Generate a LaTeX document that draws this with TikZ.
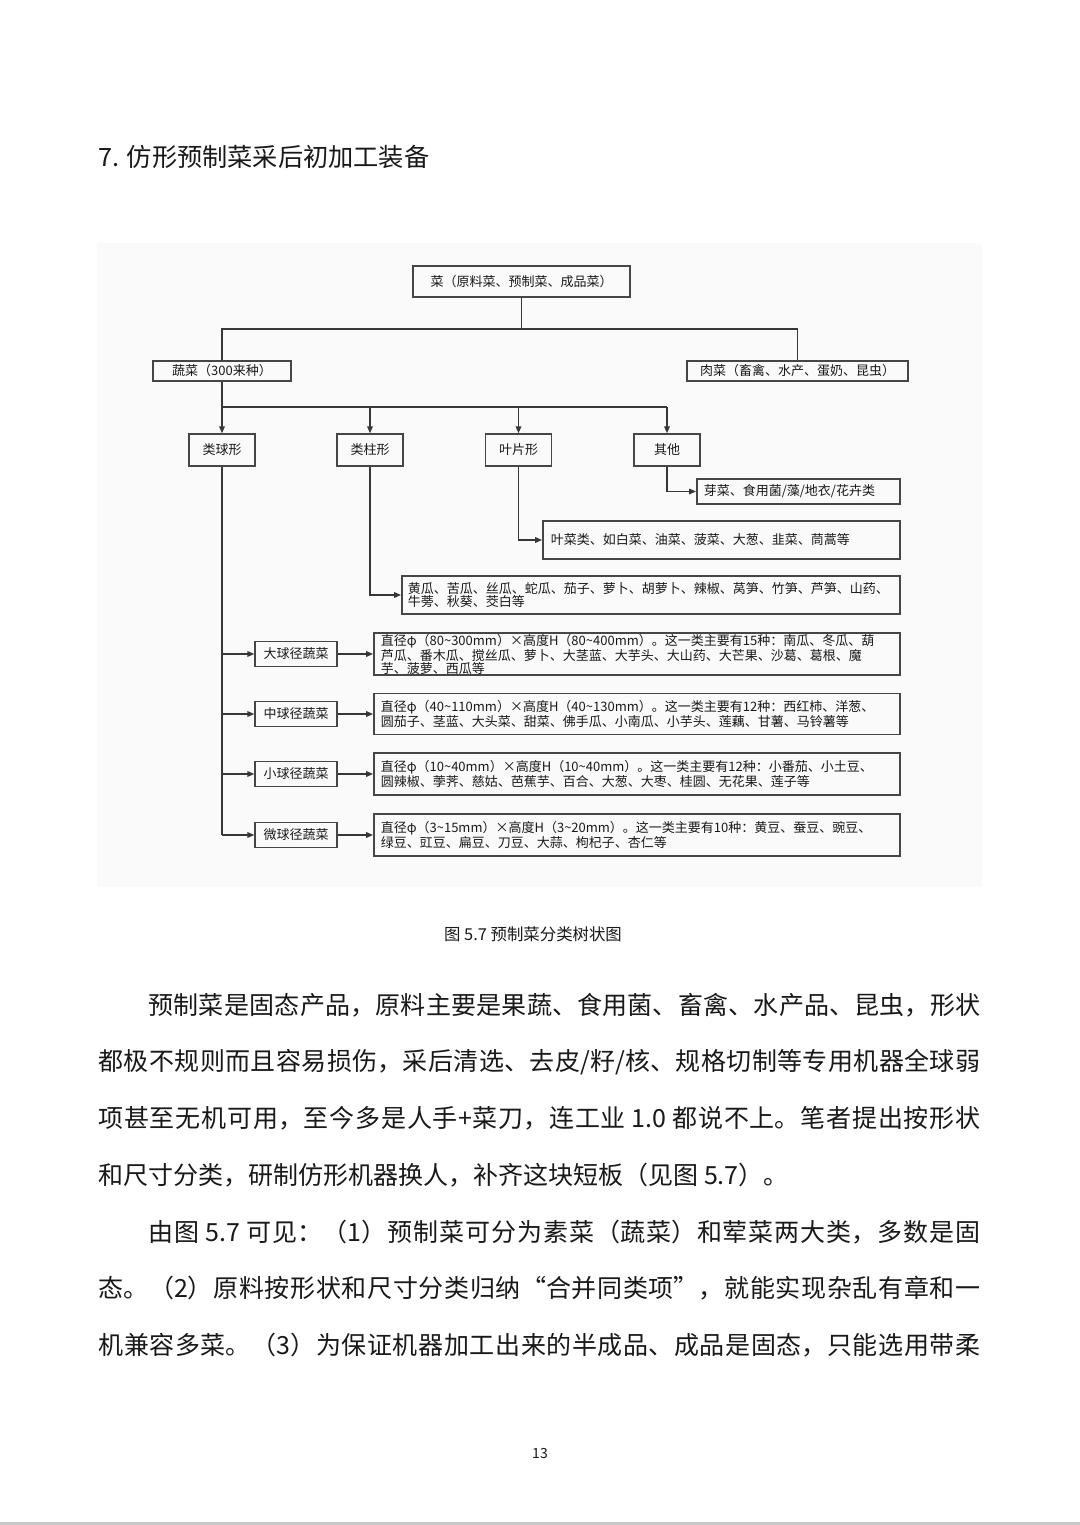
\documentclass[tikz,border=0pt]{standalone}
\usepackage{fontspec}
\setmainfont{Noto Sans CJK SC}
\usetikzlibrary{arrows.meta,calc}
\definecolor{ink}{RGB}{25,25,25}
\definecolor{ln}{RGB}{55,55,55}
\definecolor{frame}{RGB}{70,70,70}
\definecolor{panel}{RGB}{250,250,250}
\definecolor{rulec}{RGB}{200,200,200}
\newcommand{\diag}{\fontsize{6.5}{6.2}\selectfont}
\newcommand{\bodyf}{\fontsize{12.5}{15}\selectfont}
\newcommand{\tld}{\textasciitilde}
\newcommand{\zhbreak}{\XeTeXlinebreaklocale "zh"\XeTeXlinebreakskip=0pt plus 3pt minus 0.3pt\relax\parfillskip=0pt\relax\rightskip=0pt\relax\noindent}
\newcommand{\zeile}[1]{\parbox{441pt}{\zhbreak #1}}
\tikzset{
  every picture/.style={line cap=butt, line join=miter,
    >={Triangle[length=3.4pt,width=2.8pt]}},
  % Kästen
  box/.style={draw=frame, line width=0.75pt, inner sep=0pt, text=ink, font=\diag},
  rootbox/.style={box, minimum height=15.5pt},
  shapebox/.style={box, minimum width=33pt, minimum height=16pt},
  subbox/.style={box, minimum width=41pt, minimum height=12.5pt},
  leafbox/.style={box, anchor=west, align=left, inner xsep=3.5pt},
  % Linien
  link/.style={ln, line width=0.6pt},
  % Fließtext
  bodyline/.style={anchor=west, inner sep=0pt, text=ink, font=\bodyf},
}
\begin{document}
\begin{tikzpicture}[x=0.5pt, y=-0.5pt]
  \useasboundingbox (0,0) rectangle (1080,1525);
  \fill[white] (0,0) rectangle (1080,1525);
  \fill[rulec] (0,1522) rectangle (1080,1525);
  % Überschrift
  \node[anchor=west, inner sep=0pt, text=ink, font=\fontsize{12.6}{14}\selectfont] (title) at (98,157) {7. 仿形预制菜采后初加工装备};
  % Bildfläche
  \fill[panel] (97,243) rectangle (982,887);
  % oberste Ebenen
  \node[rootbox, minimum width=108.5pt] (root) at (521.5,281.5) {菜（原料菜、预制菜、成品菜）};
  \node[box, minimum width=69pt, minimum height=10pt] (veg) at (222,371) {蔬菜（300来种）};
  \node[box, minimum width=110.5pt, minimum height=10pt] (meat) at (797.5,371) {肉菜（畜禽、水产、蛋奶、昆虫）};
  % Formklassen
  \node[shapebox] (ball) at (222,450) {类球形};
  \node[shapebox] (column) at (370,450) {类柱形};
  \node[shapebox] (leaf) at (518.5,450) {叶片形};
  \node[shapebox] (other) at (667,450) {其他};
  \node[leafbox, text width=94.5pt, minimum height=12.5pt] (sprout) at (696,491.5) {芽菜、食用菌/藻/地衣/花卉类};
  \node[leafbox, inner xsep=4pt, text width=170.5pt, minimum height=19pt] (leafy) at (542,540) {叶菜类、如白菜、油菜、菠菜、大葱、韭菜、茼蒿等};
  \node[leafbox, inner xsep=3pt, text width=243pt, minimum height=19pt] (gourd) at (401,595) {黄瓜、苦瓜、丝瓜、蛇瓜、茄子、萝卜、胡萝卜、辣椒、莴笋、竹笋、芦笋、山药、\\牛蒡、秋葵、茭白等};
  % Größenklassen der kugeligen Gemüse
  \node[subbox] (big) at (296,654) {大球径蔬菜};
  \node[subbox] (mid) at (296,714) {中球径蔬菜};
  \node[subbox] (small) at (296,774) {小球径蔬菜};
  \node[subbox] (tiny) at (296,835) {微球径蔬菜};
  \node[leafbox, text width=256pt, minimum height=21pt] (bigtxt) at (373,654) {直径φ（80\tld300mm）×高度H（80\tld400mm）。这一类主要有15种：南瓜、冬瓜、葫\\芦瓜、番木瓜、搅丝瓜、萝卜、大茎蓝、大芋头、大山药、大芒果、沙葛、葛根、魔\\芋、菠萝、西瓜等};
  \node[leafbox, text width=256pt, minimum height=20.5pt] (midtxt) at (373,714) {直径φ（40\tld110mm）×高度H（40\tld130mm）。这一类主要有12种：西红柿、洋葱、\\圆茄子、茎蓝、大头菜、甜菜、佛手瓜、小南瓜、小芋头、莲藕、甘薯、马铃薯等};
  \node[leafbox, text width=256pt, minimum height=21pt] (smalltxt) at (373,774) {直径φ（10\tld40mm）×高度H（10\tld40mm）。这一类主要有12种：小番茄、小土豆、\\圆辣椒、荸荠、慈姑、芭蕉芋、百合、大葱、大枣、桂圆、无花果、莲子等};
  \node[leafbox, text width=256pt, minimum height=21pt] (tinytxt) at (373,835) {直径φ（3\tld15mm）×高度H（3\tld20mm）。这一类主要有10种：黄豆、蚕豆、豌豆、\\绿豆、豇豆、扁豆、刀豆、大蒜、枸杞子、杏仁等};
  % Verbindungen
  \coordinate (jA) at (521.5,329);
  \draw[link] (root.south) -- (jA);
  \draw[link] (veg.north) |- (jA) -| (meat.north);
  \coordinate (jB) at (222,407);
  \draw[link] (veg.south) -- (jB) -- (jB -| other.north);
  \foreach \k in {ball,column,leaf,other}
    \draw[link,->] (jB -| \k.north) -- (\k.north);
  \draw[link,->] (other.south) |- (sprout.west);
  \draw[link,->] (leaf.south) |- (leafy.west);
  \draw[link,->] (column.south) |- (gourd.west);
  \draw[link] (ball.south) -- (ball.south |- tiny.west);
  \foreach \s/\t in {big/bigtxt,mid/midtxt,small/smalltxt,tiny/tinytxt} {
    \draw[link,->] (ball.south |- \s.west) -- (\s.west);
    \draw[link,->] (\s.east) -- (\t.west);
  }
  % Bildunterschrift
  \node[inner sep=0pt, text=ink, font=\fontsize{8.2}{10}\selectfont] (caption) at (533,934) {图 5.7 预制菜分类树状图};
  % Fließtext
  \node[bodyline] (p1) at (98,1005) {\zeile{\hspace*{2em}预制菜是固态产品，原料主要是果蔬、食用菌、畜禽、水产品、昆虫，形状}};
  \node[bodyline] (p2) at (98,1062) {\zeile{都极不规则而且容易损伤，采后清选、去皮/籽/核、规格切制等专用机器全球弱}};
  \node[bodyline] (p3) at (98,1118) {\zeile{项甚至无机可用，至今多是人手+菜刀，连工业 1.0 都说不上。笔者提出按形状}};
  \node[bodyline] (p4) at (98,1175) {和尺寸分类，研制仿形机器换人，补齐这块短板（见图 5.7）。};
  \node[bodyline] (p5) at (98,1232) {\zeile{\hspace*{2em}由图 5.7 可见：（1）预制菜可分为素菜（蔬菜）和荤菜两大类，多数是固}};
  \node[bodyline] (p6) at (98,1288) {\zeile{态。（2）原料按形状和尺寸分类归纳“合并同类项”，就能实现杂乱有章和一}};
  \node[bodyline] (p7) at (98,1345) {\zeile{机兼容多菜。（3）为保证机器加工出来的半成品、成品是固态，只能选用带柔}};
  % Seitenzahl
  \node[inner sep=0pt, text=ink, font=\fontsize{7}{8}\selectfont] (pageno) at (540,1453) {13};
\end{tikzpicture}
\end{document}
